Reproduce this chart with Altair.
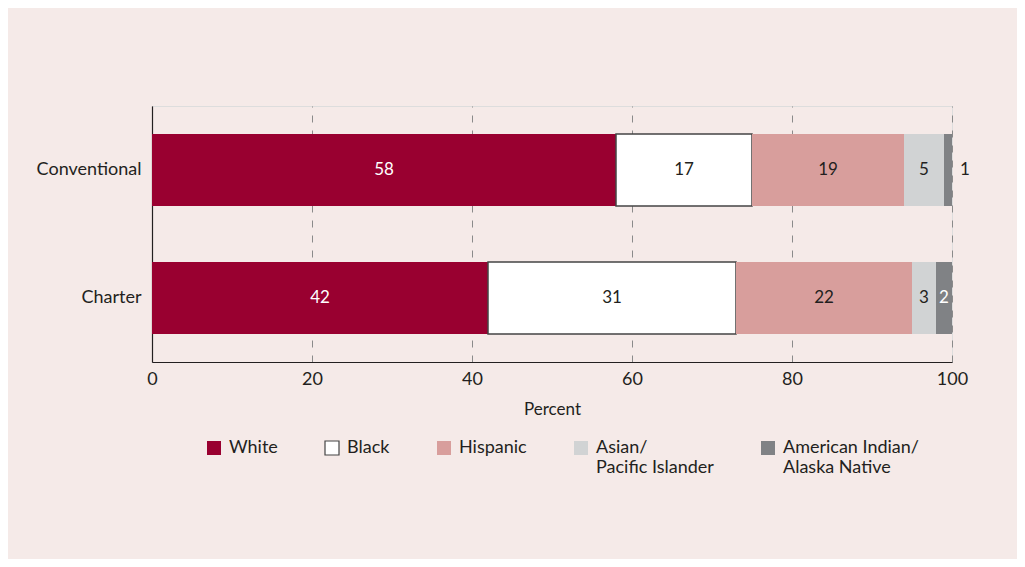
import altair as alt
import pandas as pd

school_types = ["Conventional", "Charter"]
races = ["White", "Black", "Hispanic", "Asian/\nPacific Islander", "American Indian/\nAlaska Native"]
conventional = [58, 17, 19, 5, 1]
charter = [42, 31, 22, 3, 2]
race_colors = ["#990030", "#ffffff", "#d89e9c", "#d1d3d4", "#808285"]
race_strokes = ["transparent", "#444444", "transparent", "transparent", "transparent"]
x_ticks = [0, 20, 40, 60, 80, 100]

rows = []
for school, vals in zip(school_types, [conventional, charter]):
    for i, (r, v) in enumerate(zip(races, vals)):
        rows.append({"school": school, "race": r, "value": v, "order": i})
df = pd.DataFrame(rows)

FONT = "Lato"
TXT = "#231f20"

base = alt.Chart(df).transform_stack(
    stack="value", as_=["x0", "x1"], groupby=["school"], sort=[alt.SortField("order")]
).transform_calculate(mid="(datum.x0 + datum.x1) / 2")

y_enc = alt.Y(
    "school:N",
    sort=school_types,
    title=None,
    scale=alt.Scale(paddingInner=0.4375, paddingOuter=0.219),
    axis=alt.Axis(ticks=False, labelPadding=11, labelFontSize=18, labelColor=TXT,
                  domainColor="#231f20", domainWidth=1.2, labelFont=FONT),
)

label_expr = (
    "indexof(datum.label, '\\n') < 0 ? [datum.label, ''] : split(datum.label, '\\n')"
)

legend = alt.Legend(
    title=None, orient="none", direction="horizontal", legendX=53, legendY=333,
    symbolType="square", symbolSize=196, symbolOpacity=1, symbolStrokeWidth=1.2,
    labelFontSize=18, labelColor=TXT, labelFont=FONT, labelOffset=6, columnPadding=44,
    labelExpr=label_expr, labelBaseline="middle",
)

bars = base.mark_bar(strokeWidth=1.5).encode(
    x=alt.X(
        "x0:Q",
        scale=alt.Scale(domain=[0, 100], nice=False),
        title="Percent",
        axis=alt.Axis(values=x_ticks, grid=True, gridDash=[7, 8], gridColor="#8a8a8a",
                      gridWidth=1, ticks=False, labelPadding=8, labelFontSize=18,
                      labelFlush=False, labelColor=TXT, titleFontSize=17,
                      titleFontWeight="normal", titleColor=TXT, titlePadding=13,
                      domainColor="#231f20", domainWidth=1.2, labelFont=FONT,
                      titleFont=FONT),
    ),
    x2="x1:Q",
    y=y_enc,
    color=alt.Color("race:N", sort=races,
                    scale=alt.Scale(domain=races, range=race_colors), legend=legend),
    stroke=alt.Stroke("race:N", sort=races,
                      scale=alt.Scale(domain=races, range=race_strokes), legend=legend),
    order=alt.Order("order:Q"),
)

is_light = "datum.race == 'White' || datum.race == 'American Indian/\\nAlaska Native'"

inside = base.transform_filter("datum.value >= 2").mark_text(
    fontSize=17, font=FONT, baseline="middle", align="center"
).encode(
    x="mid:Q",
    y=alt.Y("school:N", sort=school_types),
    text="value:Q",
    color=alt.condition(is_light, alt.value("#ffffff"), alt.value(TXT)),
)

outside = base.transform_filter("datum.value < 2").mark_text(
    fontSize=17, font=FONT, baseline="middle", align="left", dx=8, color=TXT
).encode(
    x="x1:Q",
    y=alt.Y("school:N", sort=school_types),
    text="value:Q",
)

chart = alt.layer(bars, inside, outside).properties(
    width=800, height=256,
    autosize=alt.AutoSizeParams(type="none"),
    padding={"left": 144, "top": 98, "right": 65, "bottom": 197},
    background="#f5eae8",
).configure_view(stroke=None).configure(font=FONT)

chart.save("out.html", embed_options={"renderer": "svg", "actions": False})
